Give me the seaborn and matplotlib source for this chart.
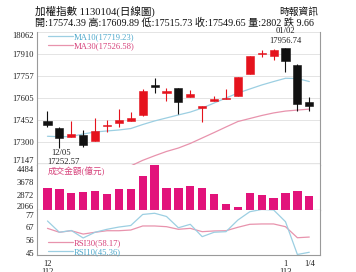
import numpy as np
import pandas as pd
import matplotlib
matplotlib.use("Agg")
import matplotlib.pyplot as plt
import matplotlib.transforms as mtrans
import seaborn as sns

# ---------------- data ----------------
dates = ["12/04", "12/05", "12/06", "12/07", "12/08", "12/11", "12/12", "12/13",
         "12/14", "12/15", "12/18", "12/19", "12/20", "12/21", "12/22", "12/25",
         "12/26", "12/27", "12/28", "12/29", "01/02", "01/03", "01/04"]
opens = [17446, 17397, 17334, 17346, 17306, 17409, 17430, 17446, 17486, 17695,
         17641, 17672, 17609, 17534, 17585, 17597, 17620, 17772, 17909, 17899,
         17951, 17835, 17574.39]
highs = [17516, 17402, 17444, 17381, 17462, 17451, 17525, 17509, 17665, 17746,
         17676, 17675, 17660, 17548, 17620, 17665, 17753, 17897, 17939, 17944,
         17956.74, 17840, 17609.89]
lows = [17400, 17252.57, 17330, 17264, 17306, 17369, 17400, 17446, 17479, 17641,
        17585, 17492, 17609, 17440, 17585, 17597, 17620, 17772, 17892, 17869,
        17788, 17513, 17515.73]
closes = [17418, 17327, 17351, 17276, 17376, 17414, 17449, 17465, 17655, 17679,
          17653, 17574, 17632, 17545, 17597, 17606, 17753, 17897, 17916, 17939,
          17862, 17559.31, 17549.65]
ma10 = [17337, 17334, 17335, 17353, 17367, 17374, 17381, 17391, 17419, 17444,
        17465, 17486, 17506, 17534, 17569, 17604, 17639, 17667, 17695, 17719,
        17742, 17740, 17719.23]
ma30 = [17020, 17035, 17050, 17065, 17080, 17095, 17110, 17130, 17169, 17201,
        17231, 17255, 17287, 17325, 17363, 17402, 17440, 17461, 17482, 17500,
        17513, 17520, 17526.58]
volume = [3335, 3235, 3022, 3047, 3147, 2922, 3235, 3235, 4066, 4754,
          3297, 3297, 3460, 3335, 2922, 2316, 2147, 3022, 2878, 2672,
          3022, 3129, 2802]
rsi10 = [71.7, 62.2, 63.7, 57.4, 62.2, 64.7, 66.6, 67.9, 77.2, 78.2,
         75.5, 66.0, 68.9, 58.5, 62.2, 62.7, 72.5, 79.5, 81.4, 81.0,
         71.1, 43.5, 45.36]
rsi30 = [65.5, 62.2, 63.5, 60.7, 62.2, 63.5, 63.5, 64.1, 67.5, 67.5,
         66.9, 64.7, 65.5, 62.7, 63.3, 63.5, 66.4, 68.9, 69.2, 69.2,
         66.9, 57.6, 58.17]

price_ticks = [17147, 17300, 17452, 17605, 17757, 17910, 18062]
vol_ticks = [2066, 2872, 3678, 4484]
rsi_tick_labels = ["45", "56", "67", "77"]
x_tick_idx = [0, 20, 22]
x_tick_labels = ["12\n112", "1\n113", "1/4"]

title = "加權指數 1130104(日線圖)"
source = "時報資訊"
summary = "開:17574.39 高:17609.89 低:17515.73 收:17549.65 量:2802 跌 9.66"

# ---------------- style ----------------
sns.set_style("white")
FAM = ["Liberation Serif", "Noto Sans CJK TC", "DejaVu Sans"]
plt.rcParams["font.family"] = FAM

RED = "#e5131d"
BLACK = "#111111"
MAG = "#e2137b"
MA10_LINE = "#9ccfe2"
MA10_TXT = "#4fa9cc"
MA30_LINE = "#e893ad"
MA30_TXT = "#d6417a"
GRID = "#e4e4e4"
SPINE = "#9a9a9a"

W, H = 356, 272
fig = plt.figure(figsize=(W / 100, H / 100), dpi=100)


def box(x0, y0, x1, y1):
    return [x0 / W, 1 - y1 / H, (x1 - x0) / W, (y1 - y0) / H]


ax_p = fig.add_axes(box(37, 32, 320, 165))
ax_v = fig.add_axes(box(37, 165, 320, 210))
ax_r = fig.add_axes(box(37, 210, 320, 255))

n = len(closes)
idx = np.arange(n)
df = pd.DataFrame({"i": idx, "open": opens, "high": highs, "low": lows,
                   "close": closes, "ma10": ma10, "ma30": ma30,
                   "vol": volume, "rsi10": rsi10, "rsi30": rsi30})
XL = (-0.88, 22.9)

# ---------------- price panel ----------------
up = df["close"] >= df["open"]
cols = np.where(up, RED, BLACK)
ax_p.vlines(df["i"], df["low"], df["high"], colors=cols, lw=0.8, zorder=3)
bottoms = np.minimum(df["open"], df["close"])
heights = np.maximum(np.abs(df["close"] - df["open"]), 6)
ax_p.bar(df["i"], heights, bottom=bottoms, width=0.68, color=cols,
         edgecolor=cols, lw=0.4, zorder=4)
sns.lineplot(data=df, x="i", y="ma10", ax=ax_p, color=MA10_LINE, lw=0.9,
             label="MA10(17719.23)", zorder=2)
sns.lineplot(data=df, x="i", y="ma30", ax=ax_p, color=MA30_LINE, lw=0.9,
             label="MA30(17526.58)", zorder=2)
ax_p.set_ylim(17136.5, 18065)
ax_p.set_yticks(price_ticks)
ax_p.set_yticklabels([str(t) for t in price_ticks])
ax_p.grid(axis="y", color=GRID, lw=0.7)
ax_p.set_axisbelow(True)
leg = ax_p.legend(loc="upper left", bbox_to_anchor=(0.039, 0.99), frameon=False,
                  fontsize=6.2, handlelength=2.9, handletextpad=0.1,
                  labelspacing=0.05, borderpad=0, borderaxespad=0)
for t, c in zip(leg.get_texts(), [MA10_TXT, MA30_TXT]):
    t.set_color(c)

# annotations
hi_i = int(np.argmax(highs))
lo_i = int(np.argmin(lows))
ax_p.annotate(dates[hi_i], (hi_i, highs[hi_i]), xytext=(0, 16.5),
              textcoords="offset pixels", ha="center", va="center", fontsize=6.2,
              color="#222222")
ax_p.annotate(f"{highs[hi_i]:.2f}", (hi_i, highs[hi_i]), xytext=(0, 6.5),
              textcoords="offset pixels", ha="center", va="center", fontsize=6.2,
              color="#222222")
ax_p.annotate(dates[lo_i], (lo_i, lows[lo_i]), xytext=(2, -5),
              textcoords="offset pixels", ha="center", va="center", fontsize=6.2,
              color="#222222")
ax_p.annotate(f"{lows[lo_i]:.2f}", (lo_i, lows[lo_i]), xytext=(4, -14),
              textcoords="offset pixels", ha="center", va="center", fontsize=6.2,
              color="#222222")

# ---------------- volume panel ----------------
sns.barplot(data=df, x="i", y="vol", ax=ax_v, color=MAG, native_scale=True,
            width=0.7, saturation=1, edgecolor=MAG, linewidth=0)
ax_v.set_ylim(1941, 4760)
ax_v.set_yticks(vol_ticks)
ax_v.set_yticklabels([str(t) for t in vol_ticks])
ax_v.text(0.039, 0.85, "成交金額(億元)", transform=ax_v.transAxes, fontsize=6.2,
          color=MA30_TXT, ha="left", va="center")

# ---------------- RSI panel ----------------
sns.lineplot(data=df, x="i", y="rsi30", ax=ax_r, color=MA30_LINE, lw=0.9,
             label="RSI30(58.17)")
sns.lineplot(data=df, x="i", y="rsi10", ax=ax_r, color=MA10_LINE, lw=0.9,
             label="RSI10(45.36)")
ax_r.set_ylim(43.06, 80.95)
ax_r.set_yticks(np.linspace(45, 77, 4))
ax_r.set_yticklabels(rsi_tick_labels)
leg2 = ax_r.legend(loc="lower left", bbox_to_anchor=(0.039, -0.02), frameon=False,
                   fontsize=6.2, handlelength=2.9, handletextpad=0.1,
                   labelspacing=0.05, borderpad=0, borderaxespad=0)
for t, c in zip(leg2.get_texts(), [MA30_TXT, MA10_TXT]):
    t.set_color(c)

# ---------------- common axis styling ----------------
for ax in (ax_p, ax_v, ax_r):
    ax.set_xlim(*XL)
    ax.set_xlabel("")
    ax.set_ylabel("")
    ax.tick_params(axis="y", length=0, pad=2, labelsize=6.2, labelcolor="#222222")
    for s in ("left", "right", "bottom", "top"):
        ax.spines[s].set_color(SPINE)
        ax.spines[s].set_linewidth(0.8)
    ax.spines["top"].set_visible(False)
    ax.set_xticks(idx)
    ax.tick_params(axis="x", length=0, labelbottom=False)

ax_r.tick_params(axis="x", length=2.5, width=0.6, color=SPINE, labelbottom=True,
                 labelsize=6.2, pad=1, labelcolor="#222222")
ax_r.set_xticklabels([x_tick_labels[x_tick_idx.index(i)] if i in x_tick_idx else ""
                      for i in idx], linespacing=1.1)

# nudge edge tick labels like the reference (keeps them from colliding)
def nudge(ax, k, dy_px):
    lab = ax.yaxis.get_major_ticks()[k].label1
    lab.set_transform(lab.get_transform() +
                      mtrans.ScaledTranslation(0, dy_px / 100, fig.dpi_scale_trans))

nudge(ax_p, 0, 3)
nudge(ax_p, len(price_ticks) - 1, -3)
nudge(ax_v, 0, 2)

# ---------------- header ----------------
fig.text(35 / W, 1 - 11.5 / H, title, fontsize=7.6, ha="left", va="center",
         color="#111111")
fig.text(318 / W, 1 - 12.5 / H, source, fontsize=7.0, ha="right", va="center",
         color="#111111")
fig.text(35 / W, 1 - 23 / H, summary, fontsize=7.3, ha="left", va="center",
         color="#111111")

fig.savefig("out.png", dpi=100, facecolor="white")
